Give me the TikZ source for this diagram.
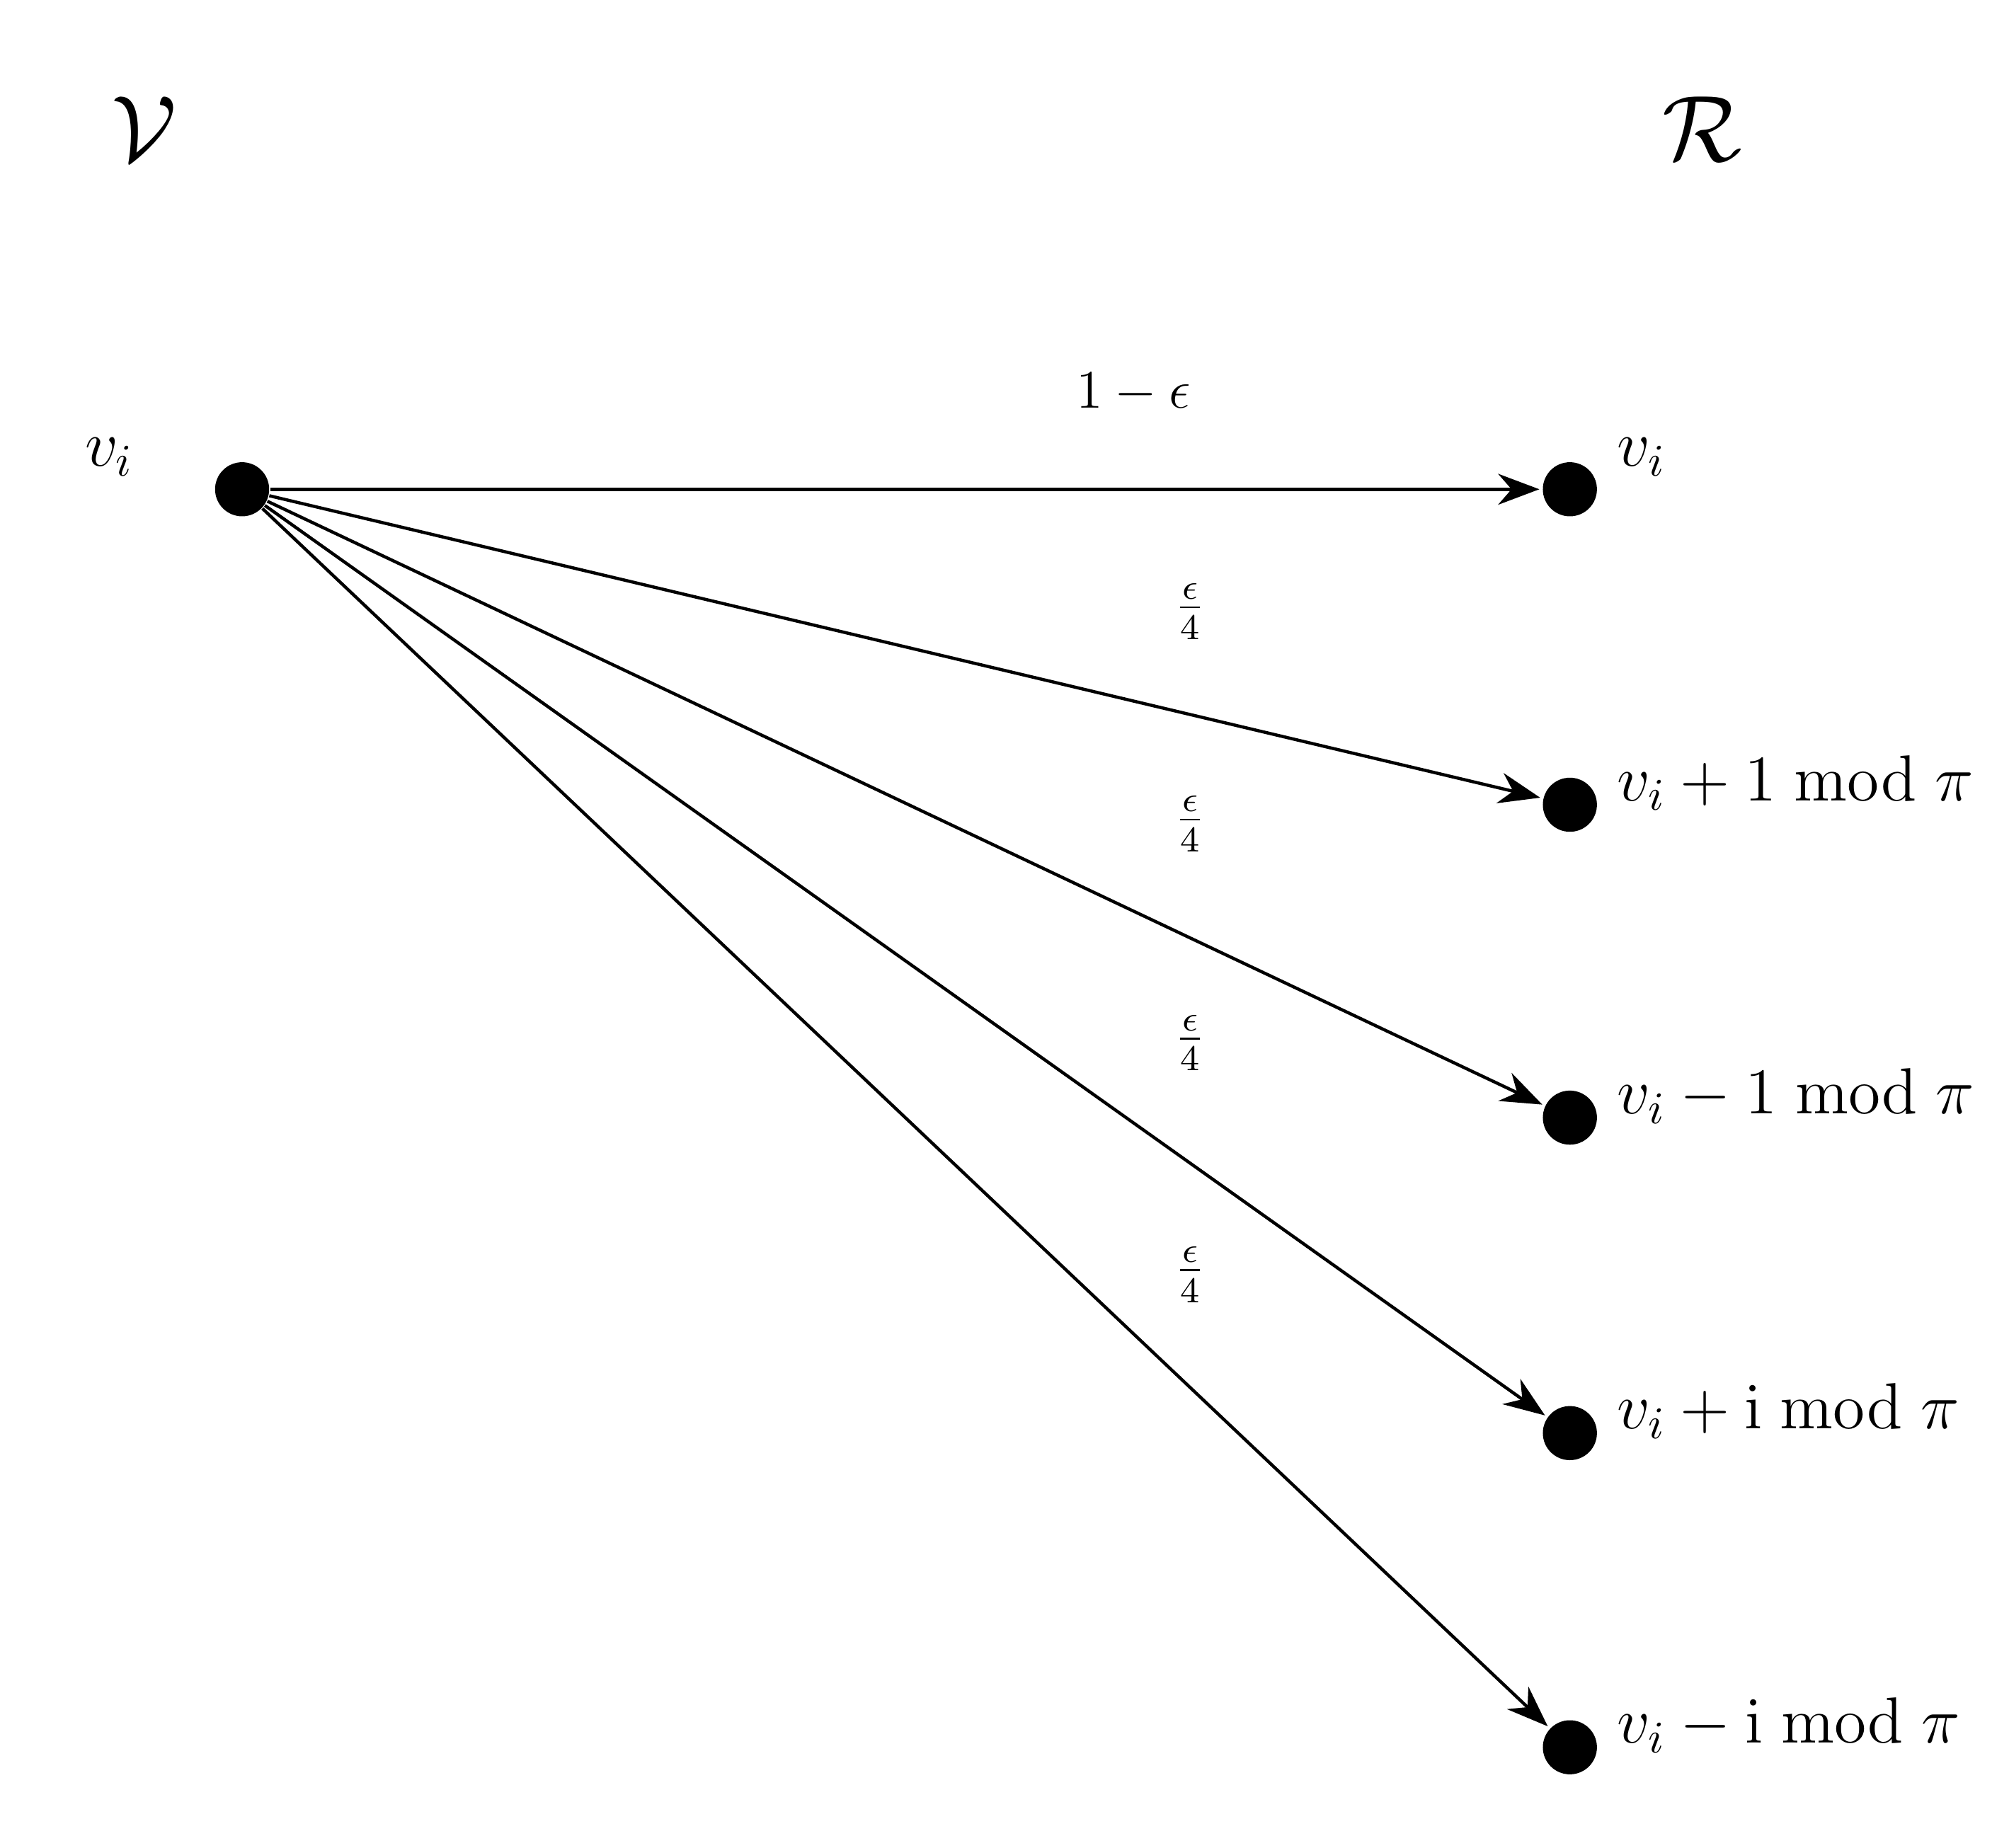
\documentclass[tikz,border=0pt]{standalone}
\usetikzlibrary{arrows.meta}
\begin{document}
\begin{tikzpicture}[
  dot/.style={circle,fill=black,inner sep=0pt,minimum size=0.42cm},
  tlab/.style={anchor=west,font=\Large,inner sep=0pt},
  elab/.style={font=\large,inner sep=0pt},
  arr/.style={-{Stealth[length=0.32cm,width=0.24cm]},line width=0.7pt,shorten >=0.02cm}]
\useasboundingbox (0,0) rectangle (15.6,14.35);
\node[font=\huge] (V) at (1.12,13.35) {$\mathcal{V}$};
\node[font=\huge] (R) at (13.22,13.35) {$\mathcal{R}$};
\node[dot] (s) at (1.88,10.55) {};
\node[font=\Large] (sl) at (0.85,10.8) {$v_i$};
\node[dot] (t1) at (12.19,10.55) {};
\node[dot] (t2) at (12.19,8.10) {};
\node[dot] (t3) at (12.19,5.67) {};
\node[dot] (t4) at (12.19,3.22) {};
\node[dot] (t5) at (12.19,0.78) {};
\node[tlab] (l1) at (12.55,10.8) {$v_i$};
\node[tlab] (l2) at (12.55,8.27) {$v_i+1 \bmod \pi$};
\node[tlab] (l3) at (12.55,5.84) {$v_i-1 \bmod \pi$};
\node[tlab] (l4) at (12.55,3.39) {$v_i+\mathrm{i} \bmod \pi$};
\node[tlab] (l5) at (12.55,0.95) {$v_i-\mathrm{i} \bmod \pi$};
\draw[arr] (s) -- (t1);
\draw[arr] (s) -- (t2);
\draw[arr] (s) -- (t3);
\draw[arr] (s) -- (t4);
\draw[arr] (s) -- (t5);
\node[elab] (e1) at (8.8,11.3) {$1-\epsilon$};
\node[elab] (e2) at (9.24,9.6) {$\frac{\epsilon}{4}$};
\node[elab] (e3) at (9.24,7.95) {$\frac{\epsilon}{4}$};
\node[elab] (e4) at (9.24,6.25) {$\frac{\epsilon}{4}$};
\node[elab] (e5) at (9.24,4.45) {$\frac{\epsilon}{4}$};
\end{tikzpicture}
\end{document}
